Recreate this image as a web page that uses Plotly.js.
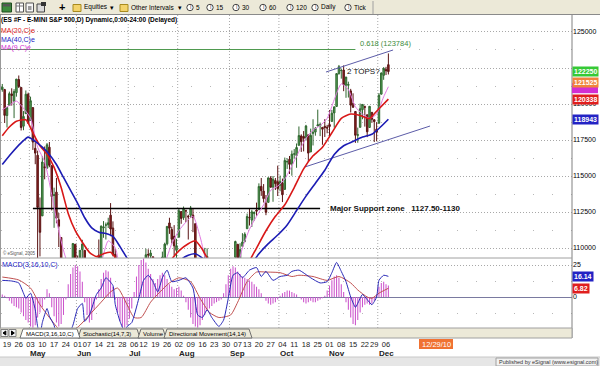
<!DOCTYPE html>
<html><head><meta charset="utf-8">
<script src="https://cdn.plot.ly/plotly-3.0.1.min.js"></script>
<style>html,body{margin:0;padding:0;background:#fff;}#chart{width:600px;height:366px;}</style>
</head><body><div id="chart"></div>
<script>
// ================= DATA =================
const holidays = ['2010-05-31','2010-07-05','2010-09-06','2010-11-25'];
function tradingDays(start, end, skip){
  const out=[]; let d=new Date(start+'T00:00:00Z'); const e=new Date(end+'T00:00:00Z');
  while(d<=e){const wd=d.getUTCDay(); const s=d.toISOString().slice(0,10);
    if(wd!==0&&wd!==6&&!skip.includes(s)) out.push(s); d=new Date(d.getTime()+86400000);}
  return out;
}
const dates = tradingDays('2010-04-15','2010-12-07',holidays);
const originDate = '2010-04-19';

const open = [
 1210.0,1210.0,
 1192.0,1199.0,1207.0,1202.0,1207.9,
 1217.0,1211.5,1184.6,1193.3,1206.8,
 1188.6,1197.5,1169.2,1164.4,1127.0,
 1122.3,1156.4,1155.4,1170.0,1157.2,
 1136.5,1138.8,1119.6,1107.3,1067.1,
 1084.8,1067.4,1075.5,1074.3,1102.6,
 1087.3,1073.0,1098.8,1098.4,
 1065.8,1050.8,1062.8,1058.8,1082.7,
 1095.0,1091.2,1114.0,1115.9,1116.2,
 1122.8,1113.9,1095.6,1090.9,1075.1,
 1077.5,1071.1,1040.6,1031.1,1027.7,
 1028.1,1028.5,1062.9,1070.5,
 1077.2,1080.7,1095.6,1094.5,1093.9,
 1066.9,1064.5,1086.7,1072.1,1092.2,
 1102.9,1117.4,1112.8,1108.1,1098.4,
 1107.5,1125.3,1121.1,1125.8,1122.1,
 1122.8,1122.9,1116.9,1081.5,1082.2,
 1077.5,1081.2,1092.1,1092.4,1075.6,
 1073.4,1063.2,1049.0,1056.3,1049.3,
 1062.9,1046.9,1049.7,1080.7,1093.6,
 1102.6,1092.4,1101.2,1104.6,
 1113.4,1121.2,1119.4,1123.9,1126.4,
 1126.6,1142.8,1139.5,1131.1,1131.7,
 1148.6,1142.3,1146.8,1146.0,1143.5,
 1145.0,1140.7,1159.8,1161.6,1158.4,
 1165.3,1164.3,1171.3,1177.8,1177.5,
 1176.8,1178.6,1166.7,1179.6,1180.5,
 1184.7,1184.9,1183.8,1184.5,1183.9,
 1185.7,1187.9,1193.8,1198.3,1221.2,
 1223.2,1223.6,1213.1,1213.0,1209.1,
 1200.4,1194.8,1178.3,1183.8,1196.1,
 1198.1,1192.5,1183.7,1194.2,
 1189.1,1182.6,1186.6,1206.8,1219.9,
 1223.9,1227.3];
const high = [
 1213.9,1210.5,
 1197.9,1208.6,1210.9,1210.3,1217.3,
 1219.8,1211.5,1195.1,1209.4,1207.9,
 1205.1,1197.5,1175.9,1167.6,1135.1,
 1163.8,1170.5,1172.9,1173.6,1157.2,
 1141.9,1148.7,1124.3,1107.3,1090.2,
 1089.9,1074.8,1090.8,1103.5,1102.6,
 1094.8,1098.6,1105.7,1098.4,
 1071.4,1063.2,1077.7,1087.9,1092.0,
 1105.9,1115.6,1118.7,1117.7,1121.0,
 1131.2,1118.5,1099.6,1090.9,1083.6,
 1082.6,1071.1,1048.1,1033.6,1032.9,
 1042.5,1060.9,1071.3,1078.2,
 1080.8,1099.5,1099.1,1098.7,1093.9,
 1074.7,1083.9,1088.9,1097.5,1103.7,
 1115.0,1121.0,1114.7,1115.9,1106.4,
 1127.3,1125.4,1128.8,1126.6,1123.1,
 1129.2,1127.2,1116.9,1086.7,1086.3,
 1082.6,1100.1,1099.8,1092.4,1075.6,
 1081.6,1063.2,1059.4,1061.5,1065.2,
 1064.4,1055.1,1081.3,1090.1,1105.1,
 1102.6,1103.3,1110.3,1110.9,
 1123.9,1127.4,1126.5,1125.4,1131.5,
 1144.9,1148.6,1144.4,1136.8,1148.9,
 1149.9,1150.0,1148.6,1157.2,1150.3,
 1148.2,1162.8,1162.3,1163.9,1167.7,
 1168.7,1172.6,1184.4,1178.9,1181.2,
 1185.5,1178.6,1182.9,1189.4,1184.0,
 1196.1,1187.1,1183.8,1189.5,1185.5,
 1195.8,1195.9,1198.3,1221.3,1227.1,
 1224.6,1226.8,1218.8,1215.5,1210.5,
 1207.4,1194.8,1183.6,1200.3,1200.0,
 1198.9,1192.5,1198.6,1194.2,
 1189.1,1187.4,1207.6,1221.9,1225.6,
 1225.8,1235.1];
const low = [
 1208.5,1186.8,
 1183.7,1199.0,1198.9,1190.2,1205.1,
 1211.1,1181.6,1181.8,1193.3,1186.3,
 1188.6,1168.1,1158.2,1065.8,1094.2,
 1122.3,1147.7,1155.4,1156.1,1126.1,
 1114.0,1117.2,1100.7,1071.6,1055.9,
 1072.7,1040.8,1065.6,1074.3,1084.8,
 1069.9,1072.3,1091.8,1060.5,
 1050.4,1042.2,1052.3,1058.8,1077.6,
 1089.0,1091.2,1107.1,1105.9,1113.9,
 1108.2,1094.2,1085.3,1071.6,1067.9,
 1071.5,1035.2,1028.3,1010.9,1015.9,
 1018.4,1028.5,1058.2,1068.1,
 1070.4,1080.7,1087.7,1080.5,1063.3,
 1061.1,1056.9,1065.3,1072.1,1087.9,
 1101.8,1109.8,1103.1,1094.8,1088.0,
 1107.5,1116.8,1119.5,1118.0,1105.9,
 1120.9,1111.0,1088.6,1076.7,1079.0,
 1069.5,1081.2,1085.8,1070.7,1063.9,
 1067.1,1046.7,1039.8,1045.4,1039.7,
 1048.8,1040.9,1049.7,1080.4,1093.6,
 1091.2,1092.4,1101.2,1103.9,
 1113.4,1115.6,1114.6,1118.9,1122.4,
 1126.6,1136.2,1131.6,1122.8,1131.7,
 1142.0,1132.1,1140.3,1136.1,1139.4,
 1131.9,1140.7,1154.9,1151.4,1150.2,
 1162.0,1155.7,1171.3,1166.7,1167.1,
 1174.6,1159.7,1166.7,1171.2,1178.0,
 1184.7,1177.7,1171.7,1177.1,1179.7,
 1177.7,1187.9,1183.6,1198.3,1220.3,
 1217.6,1208.9,1204.3,1204.5,1194.1,
 1197.2,1173.0,1173.1,1183.8,1189.4,
 1184.3,1177.0,1183.7,1186.9,
 1173.6,1174.1,1186.6,1206.8,1216.8,
 1220.1,1220.5];
const close = [
 1211.7,1192.1,
 1197.5,1207.2,1205.9,1208.7,1217.3,
 1212.1,1183.7,1191.4,1206.8,1186.7,
 1202.3,1173.6,1165.9,1128.2,1110.9,
 1159.7,1155.8,1171.7,1157.4,1135.7,
 1136.9,1120.8,1115.1,1071.6,1087.7,
 1073.7,1074.0,1068.0,1103.1,1089.4,
 1070.7,1098.4,1102.8,1064.9,
 1050.5,1062.0,1055.7,1086.8,1091.6,
 1089.6,1115.2,1114.6,1116.0,1117.5,
 1113.2,1095.3,1092.0,1073.7,1076.8,
 1074.6,1041.2,1030.7,1027.4,1022.6,
 1028.1,1060.3,1070.3,1078.0,
 1078.8,1095.3,1095.2,1096.5,1064.9,
 1071.3,1083.5,1069.6,1093.7,1102.7,
 1115.0,1113.8,1106.1,1101.5,1101.6,
 1125.9,1120.5,1127.2,1125.8,1121.6,
 1127.8,1121.1,1089.5,1083.6,1079.3,
 1079.4,1092.5,1094.2,1075.6,1071.7,
 1067.4,1051.9,1055.3,1047.2,1064.6,
 1048.9,1049.3,1080.3,1090.1,1104.5,
 1091.8,1098.9,1104.2,1109.6,
 1121.9,1121.1,1125.1,1124.7,1125.6,
 1142.7,1139.8,1134.3,1124.8,1148.7,
 1142.2,1147.7,1144.7,1141.2,1146.2,
 1137.0,1160.8,1160.0,1158.1,1165.2,
 1165.3,1169.8,1178.1,1173.8,1176.2,
 1184.7,1165.9,1178.2,1180.3,1183.1,
 1185.6,1185.6,1182.5,1183.8,1183.3,
 1184.4,1193.6,1198.0,1221.1,1225.9,
 1223.3,1213.4,1218.7,1213.5,1199.2,
 1197.8,1178.3,1178.6,1196.7,1199.7,
 1197.8,1180.7,1198.4,1189.4,
 1187.8,1180.6,1206.1,1221.5,1224.7,
 1223.1,1222.5];

// moving averages (bar number from 19 Apr = 0)
const ma20Bar = [-2,1,4,8,11,14,17,20,23,26,29,32,35,38,41,44,47,50,53,57,61,65,69,73,77,80,83,86,90,94,98,102,106,110,114,118,122,126,130,134,138,142,146,150,154,157,162];
const ma20Val = [1178,1184,1188,1189,1180,1171,1165,1156,1142,1124,1112,1104,1097,1094,1096,1097,1091,1082,1073,1066,1068,1078,1090,1098,1103,1105,1099,1090,1078,1068,1075,1088,1100,1112,1122,1130,1142,1155,1164,1170,1180,1190,1193,1192,1190,1195,1203.38];
const ma40Bar = [-2,2,6,9,12,15,18,21,24,27,30,33,36,39,42,45,48,51,54,58,62,66,70,74,77,80,83,87,91,95,99,103,107,111,115,119,123,127,131,135,139,143,147,151,155,158,162];
const ma40Val = [1158,1166,1173,1177,1174,1170,1165,1158,1149,1140,1131,1121,1114,1111,1110,1108,1101,1093,1086,1080,1076,1077,1083,1092,1095,1096,1093,1087,1082,1078,1080,1087,1096,1103,1109,1116,1126,1136,1145,1154,1165,1171,1174,1177,1179,1183,1189.43];
const ma9Bar = [-2,1,4,7,10,13,16,19,22,25,28,31,34,37,40,43,46,49,52,55,58,61,64,67,70,73,76,79,82,85,88,91,94,97,100,103,106,109,112,115,118,121,124,127,130,133,136,139,142,145,148,151,154,157,160,162];
const ma9Val = [1196,1199,1202,1197,1190,1170,1160,1137,1112,1093,1085,1085,1086,1080,1090,1105,1100,1072,1040,1040,1065,1085,1085,1090,1103,1112,1118,1122,1108,1088,1078,1062,1060,1080,1100,1113,1122,1130,1140,1143,1148,1157,1167,1176,1182,1185,1190,1203,1214,1210,1198,1193,1190,1193,1205,1212];

// MACD(3,16,10)
const macdBar = [-2,2,5,7,8,10,12,13,14,15,17,18,20,21,25,28,30,32,33,35,38,40,42,45,46,48,50,51,53,56,58,60,62,64,66,68,70,73,76,79,81,83,85,87,90,92,94,96,98,100,103,106,108,110,113,116,119,121,124,129,133,136,138,140,142,144,146,148,150,151,153,155,157,158,160,162];
const macdVal = [13,12.5,11,3,-1,3,-10,-23,-30,-20,-9,-15,-22,-30,-34,-22,-9,-5,-19,-14,2,7,15,9,-6,-19,-27,-23,-20,-1,13,17,12,4,15,21,12,13,15,7,-14,-16,-10,-16,-23,-18,-1,17,19,15,21,23,16,20,13,16,17,20,21,15,11,12,19,27,20,12,0,-8,-1,2,-2,-6,0,13,17,16.14];
const sigBar = [-2,5,10,14,18,21,25,31,35,40,44,47,51,54,57,61,65,69,73,78,82,86,90,95,98,102,106,110,116,121,124,130,136,141,146,149,153,155,158,162];
const sigVal = [15.6,13.3,7,-6,-16,-23,-30,-22,-14,-4,4,7,-6,-16,-16,-4,4,11,15,12,-1,-12,-16,-14,-4,12,19.5,19.5,19,16,17,16,13,16,11,5.5,0,-1,3,6.82];
const macdHist = [
 2,1,-1,-3,-5,-7,-8,-9,-12,-15,
 -18,-20,-23,-24,-22,-16,-12,-8,-2,6,
 3,-8,-15,-20,-23,-21,-14,-2,10,18,
 23,25,24,20,12,-4,-14,-20,-18,-10,
 -2,6,14,19,21,20,15,8,-2,-12,
 -19,-23,-24,-22,-17,-9,4,16,25,29,
 30,27,22,18,14,11,14,17,19,17,
 14,10,8,6,7,8,5,1,-4,-10,
 -16,-21,-23,-24,-22,-18,-14,-11,-9,-7,
 -5,-4,-3,-2,3,10,17,22,24,23,
 20,18,16,15,14,13,12,10,8,6,
 3,0,-3,-5,-6,-5,-4,-2,1,3,
 4,5,5,4,3,2,0,-2,-4,-5,
 -4,-3,-4,-4,-3,-2,-1,1,5,9,
 13,16,17,15,10,4,-4,-10,-16,-21,
 -22,-18,-12,-8,-6,-5,-6,-5,-3,2,
 8,11,12,10,9];

// drawn studies
const fibLevel = 1237.84, fibFrom = -3, fibTo = 148;
const supportLevel = 1127.5, supportFrom = 11, supportTo = 133;
const upperTrendBar = [135.5,164], upperTrendVal = [1222.2,1237.5];
const lowerTrendBar = [126.6,179.7], lowerTrendVal = [1156.3,1184.7];

// price tags on the right axis (the magenta MA(9) tag is almost hidden under the orange one)
const hiddenTagVal = 1211.0, hiddenTagColor = '#d22ed2';
const tagVals = [1215.25,1222.5,1203.38,1189.43];
const tagColors = ['#f0843c','#36c936','#e01e1e','#2323c4'];
const macdTagVals = [16.14,6.82];
const macdTagColors = ['#2323c4','#e01e1e'];

const tickDates = ['2010-04-19','2010-04-26','2010-05-03','2010-05-10','2010-05-17','2010-05-24','2010-06-01','2010-06-07','2010-06-14','2010-06-21','2010-06-28','2010-07-06','2010-07-12','2010-07-19','2010-07-26','2010-08-02','2010-08-09','2010-08-16','2010-08-23','2010-08-30','2010-09-07','2010-09-13','2010-09-20','2010-09-27','2010-10-04','2010-10-11','2010-10-18','2010-10-25','2010-11-01','2010-11-08','2010-11-15','2010-11-22','2010-11-29','2010-12-06'];
const monthStarts = ['2010-05-03','2010-06-01','2010-07-01','2010-08-02','2010-09-01','2010-10-01','2010-11-01','2010-12-01'];
const monthNames = ['May','Jun','Jul','Aug','Sep','Oct','Nov','Dec'];
const priceTicks = [1100,1125,1150,1175,1200,1225,1250];
const hiddenPriceTicks = [1225]; // label covered by the last-price tag

// ================= LAYOUT HELPERS =================
const origin = dates.indexOf(originDate);
const barOf = d => dates.indexOf(d) - origin;
const xs = dates.map((d,k)=>k-origin);
const L=1, T=15, W=571, H=323;
const px = x => (x-L)/W;
const py = y => (T+H-y)/H;
const FONT = 'Liberation Sans, Arial, sans-serif';
const annotations=[], shapes=[];
function txt(x,y,text,size,color,opts){annotations.push(Object.assign({xref:'paper',yref:'paper',x:px(x),y:py(y),text:text,showarrow:false,xanchor:'left',yanchor:'middle',borderpad:0,font:{family:FONT,size:size,color:color}},opts||{}));}
function rect(x0,y0,x1,y1,fill,line,extra){shapes.push(Object.assign({type:'rect',xref:'paper',yref:'paper',x0:px(x0),x1:px(x1),y0:py(y1),y1:py(y0),fillcolor:fill,line:{color:line||'rgba(0,0,0,0)',width:line?1:0},layer:'above'},extra||{}));}
function seg(x0,y0,x1,y1,color,w,dash){shapes.push({type:'line',xref:'paper',yref:'paper',x0:px(x0),x1:px(x1),y0:py(y0),y1:py(y1),line:{color:color,width:w||1,dash:dash||'solid'},layer:'above'});}
function circ(cx,cy,r,fill,line){shapes.push({type:'circle',xref:'paper',yref:'paper',x0:px(cx-r),x1:px(cx+r),y0:py(cy+r),y1:py(cy-r),fillcolor:fill,line:{color:line,width:1},layer:'above'});}
function path(pts,fill,line){shapes.push({type:'path',xref:'paper',yref:'paper',path:'M'+pts.map(p=>px(p[0])+','+py(p[1])).join(' L')+' Z',fillcolor:fill,line:{color:line,width:1},layer:'above'});}

// ---- toolbar ----
rect(-2,-2,602,14.5,'#ece9d8');
seg(0,14.5,600,14.5,'#8a8a8a',1);
rect(2,3,11.5,12,'#3d8b3d','#1e4f1e'); rect(3,4,10.5,6.5,'#555555');
rect(16,3,23.5,12,'#ffffff','#555555'); seg(16,6,23.5,6,'#777',1); seg(19.5,3,19.5,12,'#777',1);
rect(26,3,33.5,12,'#f6f6f6','#555555'); rect(28,6,31.5,10,'#9a9a9a');
rect(37,4,44.5,12,'#dadada','#444444'); rect(41,2,46,6,'#333333');
txt(58,7.5,'<b>+</b>',11,'#000');
rect(73,4.5,81,11.5,'#f3d36a','#a88a1e');
txt(83,7.5,'Equities',6.5,'#000'); txt(109,7.5,'▾',6.5,'#000');
rect(120,4.5,128,11.5,'#f3d36a','#a88a1e');
txt(130,7.5,'Other Intervals',6.5,'#000'); txt(177,7.5,'▾',6.5,'#000');
const intervalIcons=[[190,'5'],[210,'15'],[236,'30'],[263,'60'],[290,'120'],[315,'Daily'],[348,'Tick']];
intervalIcons.forEach(([cx,label])=>{circ(cx,7.5,3.2,'#ffffff','#444');txt(cx-1.2,7.5,'I',5,'#333');txt(cx+5,7.5,label,6.5,'#000');});
seg(373,1,373,14,'#a0a0a0',1);

// ---- title and study labels ----
txt(0,20.5,'<b>(ES #F - E-MINI S&P 500,D) Dynamic,0:00-24:00 (Delayed)</b>',6.5,'#000');
txt(0,30.5,'MA(20,C)e',7,'#e02020');
txt(0,39.5,'MA(40,C)e',7,'#2323c4');
txt(0,48.5,'MA(9,C)e',7,'#d22ed2');
txt(1.5,253,'© eSignal, 2005',4.5,'#555');
txt(1,265,'MACD(3,16,10,C)',7,'#2323c4');

// ---- panel frames ----
seg(0.5,15,0.5,328,'#9a9a9a',1);
seg(572,15,572,338,'#808080',1);
seg(0,258,572,258,'#a0a0a0',1);

// ---- tab bar ----
rect(0,328,572,338,'#ece9d8','#a0a0a0');
rect(1,329.5,8,336.5,'#f4f4f4','#808080'); rect(9,329.5,16,336.5,'#f4f4f4','#808080');
path([[5.8,331],[5.8,335],[3,333]],'#000','#000'); path([[11.5,331],[11.5,335],[14.3,333]],'#000','#000');
const tabs=[[78,140,'Stochastic(14,7,3)'],[138,166,'Volume'],[164,252,'Directional Movement(14,14)']];
tabs.forEach(([a,b,t])=>{path([[a,338],[a+3,329],[b-3,329],[b,338]],'#ece9d8','#707070');txt(a+4,333.5,t,6,'#000');});
path([[20,338],[23,329],[77,329],[80,338]],'#ffffff','#707070'); txt(25,333.5,'MACD(3,16,10,C)',6,'#000');

// ---- cursor date tag and status bar ----
rect(419,339,453,349,'#f07232');
txt(436,344,'12/29/10',7.5,'#fff',{xanchor:'center'});
rect(-2,357,602,368,'#e6e6e6','#c8c8c8');
rect(496,358,598,366,'#f2f2f2','#a0a0a0');
txt(498,362,'Published by eSignal (www.esignal.com)',5.5,'#333');

// ---- month grid lines ----
monthStarts.forEach(d=>{shapes.push({type:'line',xref:'x',yref:'paper',x0:barOf(d)-0.5,x1:barOf(d)-0.5,y0:py(328),y1:py(15),line:{color:'#a8a8a8',width:1,dash:'1px,2px'},layer:'below'});});
// month labels
monthStarts.forEach((d,k)=>{annotations.push({xref:'x',yref:'paper',x:barOf(d)-1,y:py(353),text:'<b>'+monthNames[k]+'</b>',showarrow:false,xanchor:'left',yanchor:'middle',font:{family:FONT,size:8,color:'#222'}});});

// ---- studies text ----
annotations.push({xref:'x',yref:'y',x:fibTo+1,y:fibLevel+4,text:'0.618 (123784)',showarrow:false,xanchor:'left',yanchor:'middle',font:{family:FONT,size:7.5,color:'#3c8c3c'}});
annotations.push({xref:'x',yref:'y',x:143.8,y:1222.6,text:'2 TOPS?',showarrow:false,xanchor:'left',yanchor:'middle',borderpad:0,font:{family:FONT,size:8,color:'#111'}});
annotations.push({xref:'x',yref:'y',x:supportTo+3.5,y:supportLevel,text:'<b>Major Support zone\u00a0\u00a0\u00a01127.50-1130</b>',showarrow:false,xanchor:'left',yanchor:'middle',font:{family:FONT,size:8,color:'#111'}});

// ---- right axis tags ----
shapes.push({type:'rect',xref:'paper',yref:'y',x0:1,x1:px(598),y0:hiddenTagVal-3.5,y1:hiddenTagVal+3.5,fillcolor:hiddenTagColor,line:{width:0},layer:'above'});
tagVals.forEach((v,k)=>{annotations.push({xref:'paper',yref:'y',x:1,y:v,text:'<b>'+(v*100).toFixed(0)+'</b>',showarrow:false,xanchor:'left',yanchor:'middle',bgcolor:tagColors[k],borderpad:1,font:{family:FONT,size:7,color:'#fff'}});});
macdTagVals.forEach((v,k)=>{annotations.push({xref:'paper',yref:'y2',x:1,y:v,text:'<b>'+v.toFixed(2)+'</b>',showarrow:false,xanchor:'left',yanchor:'middle',bgcolor:macdTagColors[k],borderpad:1,font:{family:FONT,size:7,color:'#fff'}});});

// ================= TRACES =================
const traces = [
 {type:'scatter',mode:'lines',x:[fibFrom,fibTo],y:[fibLevel,fibLevel],line:{color:'#4f9a4f',width:1},hoverinfo:'skip'},
 {type:'scatter',mode:'lines',x:[supportFrom,supportTo],y:[supportLevel,supportLevel],line:{color:'#000',width:1.5},hoverinfo:'skip'},
 {type:'scatter',mode:'lines',x:upperTrendBar,y:upperTrendVal,line:{color:'#5c5ca8',width:1},hoverinfo:'skip'},
 {type:'scatter',mode:'lines',x:lowerTrendBar,y:lowerTrendVal,line:{color:'#5c5ca8',width:1},hoverinfo:'skip'},
 {type:'candlestick',x:xs,open:open,high:high,low:low,close:close,whiskerwidth:0,
  increasing:{line:{color:'#2f662f',width:1},fillcolor:'#58a858'},
  decreasing:{line:{color:'#5a1414',width:1},fillcolor:'#8e2020'},hoverinfo:'skip'},
 {type:'scatter',mode:'lines',x:ma9Bar,y:ma9Val,line:{color:'#e27ae2',width:1,shape:'spline',smoothing:0.6},hoverinfo:'skip'},
 {type:'scatter',mode:'lines',x:ma20Bar,y:ma20Val,line:{color:'#d81818',width:1.6,shape:'spline',smoothing:0.6},hoverinfo:'skip'},
 {type:'scatter',mode:'lines',x:ma40Bar,y:ma40Val,line:{color:'#1c1cb4',width:1.6,shape:'spline',smoothing:0.6},hoverinfo:'skip'},
 {type:'bar',x:xs,y:macdHist,yaxis:'y2',width:0.45,marker:{color:'#cc55cc'},hoverinfo:'skip'},
 {type:'scatter',mode:'lines',x:sigBar,y:sigVal,yaxis:'y2',line:{color:'#c05050',width:1,shape:'spline',smoothing:0.6},hoverinfo:'skip'},
 {type:'scatter',mode:'lines',x:macdBar,y:macdVal,yaxis:'y2',line:{color:'#2828b8',width:1,shape:'spline',smoothing:0.5},hoverinfo:'skip'}
];

const mid = a => a.slice(0,-1).map((v,k)=>(v+a[k+1])/2);
const layout = {
 width:600,height:366,margin:{l:L,r:600-L-W,t:T,b:366-T-H,pad:0},
 paper_bgcolor:'#fff',plot_bgcolor:'#fff',showlegend:false,boxgap:0.1,
 font:{family:FONT,size:8,color:'#000'},
 xaxis:{range:[-2.55,240.0],anchor:'free',position:0,showgrid:false,zeroline:false,showline:false,ticks:'',tickangle:0,
   tickmode:'array',tickvals:tickDates.map(barOf),ticktext:tickDates.map(d=>d.slice(8)),
   tickfont:{family:FONT,size:7.5,color:'#222'},rangeslider:{visible:false},fixedrange:true},
 yaxis:{domain:[(338-258)/H,1],range:[1093.06,1261.8],side:'right',anchor:'x',
   tickmode:'array',tickvals:priceTicks,ticktext:priceTicks.map(v=>hiddenPriceTicks.includes(v)?'':String(v*100)),
   tickfont:{family:FONT,size:7,color:'#000'},ticks:'',showline:false,zeroline:false,
   showgrid:true,gridcolor:'#a8a8a8',griddash:'1px,2px',gridwidth:1,
   minor:{tickvals:mid(priceTicks),showgrid:true,gridcolor:'#b8b8b8',griddash:'1px,18px',ticks:''}},
 yaxis2:{domain:[(338-328)/H,(338-258)/H],range:[-24.2,30.47],side:'right',anchor:'x',
   tickmode:'array',tickvals:[0,25],ticktext:['0','25'],tickfont:{family:FONT,size:7,color:'#000'},ticks:'',
   showgrid:true,gridcolor:'#a8a8a8',griddash:'1px,2px',zeroline:true,zerolinecolor:'#7a7aa0',zerolinewidth:1,showline:false,
   minor:{tickvals:[-12.5,12.5],showgrid:true,gridcolor:'#b8b8b8',griddash:'1px,18px',ticks:''}},
 shapes:shapes,annotations:annotations
};
Plotly.newPlot('chart',traces,layout,{displayModeBar:false,staticPlot:true});
</script></body></html>
